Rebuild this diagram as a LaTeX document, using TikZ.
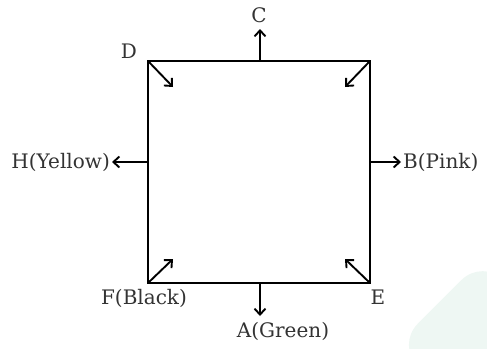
\documentclass[tikz,border=0pt]{standalone}
\usepackage{fontspec}
\setmainfont{DejaVu Serif}
\usetikzlibrary{arrows.meta}
\definecolor{wm}{HTML}{EEF7F3}
\tikzset{
  edge/.style={line width=1.9pt, line cap=rect},
  arr/.style={line width=1.9pt, -{Straight Barb[length=6pt,width=11pt,line width=1.9pt]}},
  lbl/.style={font=\fontsize{20}{23}\selectfont, inner sep=0pt, text=black!80}
}
\begin{document}
\begin{tikzpicture}[x=1pt,y=-1pt]
\useasboundingbox (0,0) rectangle (487,348);
\begin{scope}
\clip (0,0) rectangle (487,348);
\fill[wm, rounded corners=30pt, rotate around={45:(470,345)}] (418,293) rectangle (540,415);
\end{scope}
% square corners
\coordinate (D) at (148,61);
\coordinate (G) at (370,61);
\coordinate (F) at (148,283);
\coordinate (E) at (370,283);
\coordinate (Ctop) at (260,61);
\coordinate (Abot) at (260,283);
\coordinate (Hmid) at (148,162);
\coordinate (Bmid) at (370,162);
\draw[edge] (D) -- (G) -- (E) -- (F) -- cycle;
% end points
\coordinate (Ce) at (260,29);
\coordinate (Ae) at (260,316);
\coordinate (He) at (112,162);
\coordinate (Be) at (401,162);
\coordinate (De) at (173,87);
\coordinate (Ge) at (345,87);
\coordinate (Fe) at (173,259);
\coordinate (Ee) at (345,259);
\draw[arr] (Ctop) -- (Ce);
\draw[arr] (Abot) -- (Ae);
\draw[arr] (Hmid) -- (He);
\draw[arr] (Bmid) -- (Be);
\draw[arr] (D) -- (De);
\draw[arr] (G) -- (Ge);
\draw[arr] (F) -- (Fe);
\draw[arr] (E) -- (Ee);
% labels
\node[lbl] (lC) at (259,15) {C};
\node[lbl] (lD) at (129,51) {D};
\node[lbl, anchor=east] (lH) at (110,162) {H(Yellow)};
\node[lbl, anchor=west] (lB) at (403,162) {B(Pink)};
\node[lbl] (lF) at (144,298) {F(Black)};
\node[lbl] (lE) at (378,297) {E};
\node[lbl] (lA) at (283,331) {A(Green)};
\end{tikzpicture}
\end{document}
